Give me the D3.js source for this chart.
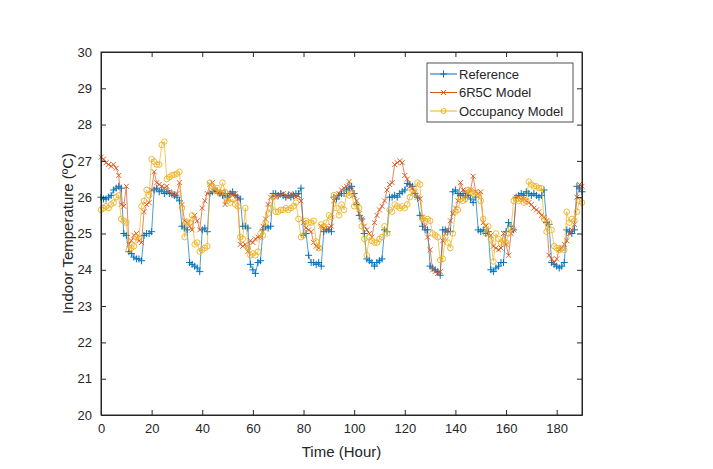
<!DOCTYPE html>
<html><head><meta charset="utf-8">
<script src="https://cdn.jsdelivr.net/npm/d3@7"></script>
<style>body{margin:0;background:#fff}svg{display:block}text{font-family:"Liberation Sans",Arial,sans-serif;fill:#262626}</style>
</head><body>
<script>
const seriesNames = ["Reference", "6R5C Model", "Occupancy Model"];
const xTicks = [0,20,40,60,80,100,120,140,160,180];
const yTicks = [20,21,22,23,24,25,26,27,28,29,30];
const hours = d3.range(0, 191);
const reference = [26.0,25.95,25.95,26.0,26.05,26.2,26.25,26.3,26.25,25.0,24.95,24.5,24.45,24.35,24.3,24.3,24.25,24.95,25.0,25.0,
25.05,26.2,26.25,26.15,26.2,26.1,26.15,26.1,26.1,26.05,26.0,25.9,25.2,25.15,25.1,24.2,24.15,24.1,24.05,23.95,
25.1,25.15,25.05,26.1,26.15,26.2,26.15,26.1,26.05,26.1,26.0,26.1,26.15,26.05,26.0,25.95,25.2,25.2,25.15,24.15,
24.0,23.9,24.2,24.25,25.1,25.2,25.15,25.2,26.1,26.1,26.05,26.1,26.05,26.0,26.05,26.0,26.05,26.1,26.1,26.25,
24.95,25.0,24.4,24.2,24.2,24.15,24.2,24.1,25.05,25.1,25.1,25.05,26.0,25.95,26.05,26.1,26.1,26.2,26.25,26.3,
26.1,25.8,25.5,25.4,25.0,24.3,24.25,24.2,24.1,24.2,24.25,24.3,25.1,25.05,26.0,26.0,26.05,26.0,26.1,26.15,
26.2,26.38,26.35,26.3,26.1,26.0,25.5,25.2,25.1,25.1,24.1,24.05,24.0,23.95,23.85,25.1,25.1,25.05,25.05,26.15,
26.2,26.1,26.05,26.1,26.0,26.05,25.95,25.85,26.0,25.1,25.05,25.1,25.0,25.05,24.0,23.95,24.05,24.1,24.2,24.2,
25.05,25.3,25.2,25.1,26.0,26.05,26.1,26.05,26.15,26.1,26.05,26.1,26.05,26.0,26.05,26.2,25.3,25.25,24.2,24.15,
24.1,24.05,24.1,24.2,25.1,25.05,25.0,25.1,26.3,26.25,26.15];
const model6R5C = [27.1,27.05,26.95,26.9,26.85,26.9,26.8,26.6,25.8,25.75,26.3,24.7,24.8,24.95,25.0,24.8,24.75,25.6,25.8,25.85,
26.2,26.7,26.4,26.35,26.3,26.25,26.3,26.15,26.1,26.05,26.1,26.4,25.8,25.35,25.3,25.2,25.1,25.5,25.35,25.1,
25.7,25.9,26.1,26.35,26.4,26.2,26.15,26.1,26.15,25.8,25.95,26.1,26.05,26.1,25.95,24.7,24.65,24.7,24.5,24.8,
24.75,24.85,24.9,24.9,25.2,25.4,25.8,26.0,26.05,26.0,26.05,26.05,26.1,26.05,26.0,26.1,26.05,26.0,26.05,25.9,
25.3,25.15,25.1,25.05,24.75,24.65,24.6,25.2,25.15,25.1,25.15,25.2,25.9,26.0,26.1,26.2,26.25,26.3,26.43,26.2,
26.05,25.9,25.55,25.4,25.2,25.1,25.0,24.9,25.3,25.5,25.65,25.75,25.9,26.2,26.35,26.4,26.9,26.95,27.0,26.95,
26.6,26.5,26.3,26.25,26.15,26.0,25.95,25.45,25.2,24.9,24.55,24.0,23.95,23.9,23.95,24.8,25.0,25.1,25.35,25.55,
25.7,25.9,26.4,26.2,26.15,26.1,26.2,26.58,26.15,26.1,26.15,25.3,25.2,25.0,24.95,24.65,24.6,24.55,24.6,25.0,
24.7,24.4,25.0,25.1,26.0,26.0,25.95,25.95,25.9,25.85,25.8,25.7,25.65,25.6,25.5,25.45,25.35,24.4,24.3,24.2,
24.3,24.55,24.6,24.7,24.8,25.0,25.1,25.25,26.0,26.35,26.3];
const occupancy = [25.65,25.7,25.75,25.7,25.8,25.85,26.0,26.05,25.4,25.35,25.3,24.55,24.6,24.65,24.9,24.85,25.75,25.9,26.2,26.05,
27.05,26.98,26.9,26.9,27.44,27.53,26.5,26.55,26.6,26.62,26.65,26.7,25.7,24.9,25.3,25.3,25.5,24.7,24.75,24.5,
24.55,24.6,24.65,26.4,26.3,26.2,26.25,26.1,26.4,26.15,25.9,25.85,25.95,25.8,25.75,24.9,24.85,25.7,24.6,24.4,
24.45,24.4,24.5,25.0,24.95,25.3,25.55,25.7,26.0,25.6,25.6,25.65,25.65,25.7,25.65,25.7,25.75,25.85,25.4,24.9,
24.95,25.35,25.3,25.3,25.35,24.78,24.6,25.25,25.2,25.3,25.5,25.45,26.06,25.7,25.5,25.8,25.65,26.1,26.05,26.1,
25.75,25.8,25.7,25.2,24.85,24.4,24.9,24.8,24.75,24.75,24.85,24.9,25.2,25.0,25.65,25.6,25.8,25.75,25.7,25.75,
25.7,25.8,26.0,26.2,26.1,26.4,26.35,25.4,25.35,25.4,25.35,25.0,24.95,24.9,24.27,24.3,24.9,24.75,24.6,25.0,
25.6,25.65,25.95,25.9,25.95,26.2,26.15,26.1,26.05,26.1,25.9,25.4,25.0,25.2,24.83,24.23,25.0,24.85,24.75,24.8,
24.75,25.0,25.15,25.9,25.95,25.9,25.95,25.85,25.9,26.43,26.35,26.3,26.3,26.25,26.25,25.4,25.05,25.3,25.1,24.65,
24.6,24.55,24.6,24.55,25.6,25.3,25.4,25.35,25.6,25.9,25.85];

const colors = ["#0072BD", "#D95319", "#EDB120"];
const W = 713, H = 469;
const m = {l: 101, t: 52, r: 582, b: 415};
const svg = d3.select("body").append("svg").attr("width", W).attr("height", H);
const x = d3.scaleLinear().domain([0, 190]).range([m.l, m.r]);
const y = d3.scaleLinear().domain([20, 30]).range([m.b, m.t]);

const data = [reference, model6R5C, occupancy];
const line = d3.line().x((d,i)=>x(hours[i])).y(d=>y(d));
const plot = svg.append("g");
data.forEach((vals, k) => {
  const g = plot.append("g");
  g.append("path").attr("d", line(vals)).attr("fill","none").attr("stroke", colors[k]).attr("stroke-width", 0.7);
  const pts = g.selectAll("g.p").data(vals).join("g").attr("transform",(d,i)=>`translate(${x(hours[i])},${y(d)})`);
  if (k === 0) {
    pts.append("path").attr("d","M-3.5,0H3.5M0,-3.5V3.5").attr("stroke",colors[k]).attr("stroke-width",1);
  } else if (k === 1) {
    pts.append("path").attr("d","M-2.5,-2.5L2.5,2.5M-2.5,2.5L2.5,-2.5").attr("stroke",colors[k]).attr("stroke-width",0.9);
  } else {
    pts.append("circle").attr("r",2.8).attr("fill","none").attr("stroke",colors[k]).attr("stroke-width",0.9);
  }
});

// axes frame
const ax = svg.append("g");
ax.append("rect").attr("x",m.l).attr("y",m.t).attr("width",m.r-m.l).attr("height",m.b-m.t)
  .attr("fill","none").attr("stroke","#262626").attr("stroke-width",1);
const xAxis = d3.axisBottom(x).tickValues(xTicks).tickSizeInner(-5).tickSizeOuter(0).tickPadding(9);
const gx = svg.append("g").attr("transform",`translate(0,${m.b})`).call(xAxis);
const xAxisTop = d3.axisTop(x).tickValues(xTicks).tickSizeInner(-5).tickSizeOuter(0).tickFormat("");
const gxt = svg.append("g").attr("transform",`translate(0,${m.t})`).call(xAxisTop);
const yAxis = d3.axisLeft(y).tickValues(yTicks).tickSizeInner(-5).tickSizeOuter(0).tickPadding(9);
const gy = svg.append("g").attr("transform",`translate(${m.l},0)`).call(yAxis);
const yAxisR = d3.axisRight(y).tickValues(yTicks).tickSizeInner(-5).tickSizeOuter(0).tickFormat("");
const gyr = svg.append("g").attr("transform",`translate(${m.r},0)`).call(yAxisR);
[gx,gxt,gy,gyr].forEach(g=>{
  g.select(".domain").attr("stroke","#262626");
  g.selectAll(".tick line").attr("stroke","#262626");
  g.selectAll("text").attr("font-size",13).attr("font-family","'Liberation Sans',Arial,sans-serif").attr("fill","#262626");
});

svg.append("text").attr("x",(m.l+m.r)/2).attr("y",457).attr("text-anchor","middle").attr("font-size",15).text("Time (Hour)");
svg.append("text").attr("transform",`translate(73,${(m.t+m.b)/2}) rotate(-90)`).attr("text-anchor","middle").attr("font-size",15).text("Indoor Temperature (ºC)");

// legend
const lg = svg.append("g");
lg.append("rect").attr("x",427).attr("y",63).attr("width",146).attr("height",59).attr("fill","#fff").attr("stroke","#262626").attr("stroke-width",0.8);
seriesNames.forEach((n,k)=>{
  const cy = 74 + k*18.5;
  lg.append("line").attr("x1",430).attr("x2",457).attr("y1",cy).attr("y2",cy).attr("stroke",colors[k]).attr("stroke-width",1);
  const mk = lg.append("g").attr("transform",`translate(443.5,${cy})`);
  if (k===0) mk.append("path").attr("d","M-3.5,0H3.5M0,-3.5V3.5").attr("stroke",colors[k]);
  else if (k===1) mk.append("path").attr("d","M-2.5,-2.5L2.5,2.5M-2.5,2.5L2.5,-2.5").attr("stroke",colors[k]);
  else mk.append("circle").attr("r",2.5).attr("fill","none").attr("stroke",colors[k]);
  lg.append("text").attr("x",459).attr("y",cy+4.5).attr("font-size",13).text(n);
});
</script>
</body></html>
